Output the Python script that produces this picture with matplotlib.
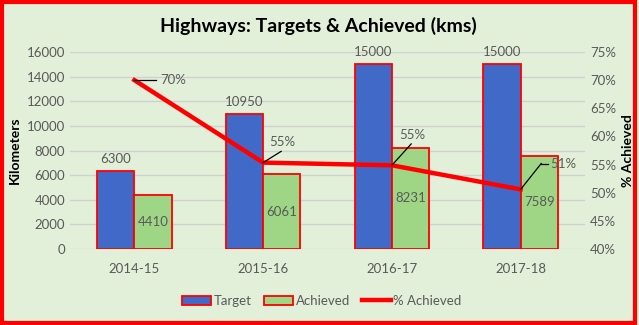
import numpy as np
import matplotlib.pyplot as plt
from matplotlib.lines import Line2D
from matplotlib.patches import Patch, Rectangle

plt.rcParams['font.family'] = ['Lato', 'DejaVu Sans']

# -- data
years = ['2014-15', '2015-16', '2016-17', '2017-18']
target = [6300, 10950, 15000, 15000]
achieved = [4410, 6061, 8231, 7589]
pct = [70.0, 55.35, 54.87, 50.59]
pct_labels = ['70%', '55%', '55%', '51%']

bg = '#E2F0D9'
grey = '#595959'

fig = plt.figure(figsize=(6.39, 3.25), dpi=100, facecolor=bg)
ax = fig.add_axes([70 / 639, 76 / 325, 515 / 639, 197 / 325])
ax.set_facecolor(bg)
ax2 = ax.twinx()

x = np.arange(len(years))
w = 0.29
ax.bar(x - w / 2, target, w, color='#4169C8', edgecolor='red', linewidth=1.3, zorder=2)
ax.bar(x + w / 2, achieved, w, color='#9FD685', edgecolor='red', linewidth=1.3, zorder=2)

for xi, t in zip(x, target):
    ax.text(xi - w / 2, t + 500, str(t), ha='center', va='bottom', color=grey, fontsize=9.5)
for xi, a in zip(x, achieved):
    ax.text(xi + w / 2, a / 2, str(a), ha='center', va='center', color=grey, fontsize=9.5)

ax.set_xlim(-0.5, 3.5)
ax.set_ylim(0, 16000)
ax.set_yticks(np.arange(0, 16001, 2000))
ax.set_xticks(x)
ax.set_xticklabels(years)
ax.grid(axis='y', color='#D0D0D0', linewidth=1, zorder=0)
ax.set_axisbelow(True)
for a in (ax, ax2):
    for s in a.spines.values():
        s.set_visible(False)
    a.tick_params(length=0, colors=grey, labelsize=9.5)
ax.tick_params(axis='x', pad=10)
ax.set_ylabel('Kilometers', fontsize=10, fontweight='bold', color='black', labelpad=4)

ax2.plot(x, pct, color='red', linewidth=3.2, zorder=3)
ax2.set_ylim(40, 75)
ax2.set_yticks(np.arange(40, 76, 5))
ax2.set_yticklabels([f'{v}%' for v in range(40, 76, 5)])
ax2.set_ylabel('% Achieved', fontsize=10, fontweight='bold', color='black', labelpad=4)

# leader lines + percent labels (offsets in data units)
offs = [(0.17, 0.0), (0.14, 2.0), (0.15, 3.8), (0.16, 4.6)]
for xi, p, lab, (dx, dy) in zip(x, pct, pct_labels, offs):
    ax2.plot([xi, xi + dx], [p, p + dy], color='black', linewidth=0.9, zorder=4)
    if dy > 4:
        ax2.plot([xi + dx, xi + dx + 0.05], [p + dy, p + dy], color='black', linewidth=0.9, zorder=4)
        ax2.text(xi + dx + 0.07, p + dy, lab, ha='left', va='center', color=grey, fontsize=9.5)
    elif dy == 0:
        ax2.text(xi + dx + 0.03, p + dy, lab, ha='left', va='center', color=grey, fontsize=9.5)
    else:
        ax2.text(xi + dx + 0.01, p + dy + 0.6, lab, ha='center', va='bottom', color=grey, fontsize=9.5)

fig.text(318 / 639, 1 - 26 / 325, 'Highways: Targets & Achieved (kms)', ha='center', va='center',
         fontsize=14, fontweight='bold', color='black')

handles = [Patch(facecolor='#4169C8', edgecolor='red', linewidth=1.3),
           Patch(facecolor='#9FD685', edgecolor='red', linewidth=1.3),
           Line2D([0], [0], color='red', linewidth=3.2)]
fig.legend(handles, ['Target', 'Achieved', '% Achieved'], loc='center', ncol=3,
           bbox_to_anchor=(322 / 639, 1 - 301 / 325), frameon=False, fontsize=9.5,
           labelcolor=grey, handlelength=2.2, handletextpad=0.2, columnspacing=0.9)

fig.patches.append(Rectangle((0.003, 0.005), 0.99, 0.99, transform=fig.transFigure,
                             fill=False, edgecolor='red', linewidth=3))

fig.savefig('out.png', dpi=100, facecolor=bg)
